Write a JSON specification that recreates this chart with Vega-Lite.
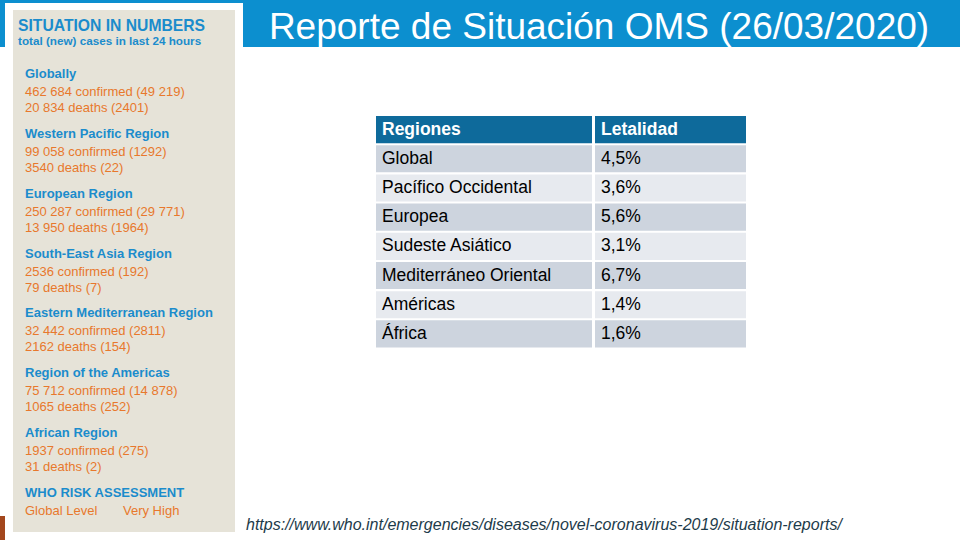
{
  "$schema": "https://vega.github.io/schema/vega-lite/v6.json",
  "width": 960,
  "height": 540,
  "autosize": {"type": "fit", "contains": "padding"},
  "padding": 0,
  "background": "white",
  "config": {"view": {"stroke": null}, "font": "Liberation Sans"},
  "datasets": {
    "panel": [
      {"grupo": "Globally", "lineas": "462 684 confirmed (49 219)\n20 834 deaths (2401)"},
      {"grupo": "Western Pacific Region", "lineas": "99 058 confirmed (1292)\n3540 deaths (22)"},
      {"grupo": "European Region", "lineas": "250 287 confirmed (29 771)\n13 950 deaths (1964)"},
      {"grupo": "South-East Asia Region", "lineas": "2536 confirmed (192)\n79 deaths (7)"},
      {"grupo": "Eastern Mediterranean Region", "lineas": "32 442 confirmed (2811)\n2162 deaths (154)"},
      {"grupo": "Region of the Americas", "lineas": "75 712 confirmed (14 878)\n1065 deaths (252)"},
      {"grupo": "African Region", "lineas": "1937 confirmed (275)\n31 deaths (2)"},
      {"grupo": "WHO RISK ASSESSMENT", "lineas": "Global Level", "nivel": "Very High"}
    ],
    "tabla": [
      {"region": "Regiones", "letalidad": "Letalidad"},
      {"region": "Global", "letalidad": "4,5%"},
      {"region": "Pacífico Occidental", "letalidad": "3,6%"},
      {"region": "Europea", "letalidad": "5,6%"},
      {"region": "Sudeste Asiático", "letalidad": "3,1%"},
      {"region": "Mediterráneo Oriental", "letalidad": "6,7%"},
      {"region": "Américas", "letalidad": "1,4%"},
      {"region": "África", "letalidad": "1,6%"}
    ]
  },
  "layer": [
    {
      "data": {"values": [{}]},
      "mark": {"type": "rect", "color": "#0c8fcf"},
      "encoding": {"x": {"value": 0}, "x2": {"value": 960}, "y": {"value": 0}, "y2": {"value": 47}}
    },
    {
      "data": {"values": [{}]},
      "mark": {"type": "rect", "color": "#ffffff"},
      "encoding": {"x": {"value": 5}, "x2": {"value": 243}, "y": {"value": 3}, "y2": {"value": 540}}
    },
    {
      "data": {"values": [{}]},
      "mark": {"type": "rect", "color": "#e6e3d8"},
      "encoding": {"x": {"value": 13}, "x2": {"value": 235}, "y": {"value": 10}, "y2": {"value": 532}}
    },
    {
      "data": {"values": [{}]},
      "mark": {"type": "rect", "color": "#a3471d"},
      "encoding": {"x": {"value": 0}, "x2": {"value": 5}, "y": {"value": 516}, "y2": {"value": 540}}
    },
    {
      "data": {"values": [{}]},
      "mark": {"type": "text", "align": "left", "baseline": "alphabetic", "fontWeight": "bold", "fontSize": 15.7, "color": "#1b8ccc", "text": "SITUATION IN NUMBERS"},
      "encoding": {"x": {"value": 18}, "y": {"value": 31}}
    },
    {
      "data": {"values": [{}]},
      "mark": {"type": "text", "align": "left", "baseline": "alphabetic", "fontWeight": "bold", "fontSize": 11.7, "color": "#1b8ccc", "text": "total (new) cases in last 24 hours"},
      "encoding": {"x": {"value": 18}, "y": {"value": 45}}
    },
    {
      "data": {"name": "panel"},
      "mark": {"type": "text", "align": "left", "baseline": "alphabetic", "fontWeight": "bold", "fontSize": 13, "color": "#1b8ccc"},
      "encoding": {
        "x": {"value": 25},
        "y": {"field": "grupo", "type": "nominal", "axis": null, "scale": {"type": "point", "domain": ["Globally", "Western Pacific Region", "European Region", "South-East Asia Region", "Eastern Mediterranean Region", "Region of the Americas", "African Region", "WHO RISK ASSESSMENT"], "range": [78, 497], "padding": 0}},
        "text": {"field": "grupo", "type": "nominal"}
      }
    },
    {
      "data": {"name": "panel"},
      "mark": {"type": "text", "align": "left", "baseline": "alphabetic", "fontSize": 13, "color": "#e8782c", "dy": 18, "lineBreak": "\n", "lineHeight": 16},
      "encoding": {
        "x": {"value": 25},
        "y": {"field": "grupo", "type": "nominal", "axis": null, "scale": {"type": "point", "domain": ["Globally", "Western Pacific Region", "European Region", "South-East Asia Region", "Eastern Mediterranean Region", "Region of the Americas", "African Region", "WHO RISK ASSESSMENT"], "range": [78, 497], "padding": 0}},
        "text": {"field": "lineas", "type": "nominal"}
      }
    },
    {
      "data": {"name": "panel"},
      "transform": [{"filter": "isValid(datum.nivel)"}],
      "mark": {"type": "text", "align": "left", "baseline": "alphabetic", "fontSize": 13, "color": "#e8782c", "dy": 18},
      "encoding": {
        "x": {"value": 123},
        "y": {"field": "grupo", "type": "nominal", "axis": null, "scale": {"type": "point", "domain": ["Globally", "Western Pacific Region", "European Region", "South-East Asia Region", "Eastern Mediterranean Region", "Region of the Americas", "African Region", "WHO RISK ASSESSMENT"], "range": [78, 497], "padding": 0}},
        "text": {"field": "nivel", "type": "nominal"}
      }
    },
    {
      "data": {"values": [{}]},
      "mark": {"type": "text", "align": "center", "baseline": "alphabetic", "fontSize": 37, "color": "#ffffff", "text": "Reporte de Situación OMS (26/03/2020)"},
      "encoding": {"x": {"value": 599}, "y": {"value": 39}}
    },
    {
      "data": {"name": "tabla"},
      "mark": {"type": "rect"},
      "encoding": {
        "x": {"value": 376}, "x2": {"value": 592},
        "y": {"field": "region", "type": "nominal", "axis": null, "scale": {"type": "band", "domain": ["Regiones", "Global", "Pacífico Occidental", "Europea", "Sudeste Asiático", "Mediterráneo Oriental", "Américas", "África"], "range": [116, 347.5], "paddingInner": 0.07, "paddingOuter": 0}},
        "color": {"field": "region", "type": "nominal", "legend": null, "scale": {"domain": ["Regiones", "Global", "Pacífico Occidental", "Europea", "Sudeste Asiático", "Mediterráneo Oriental", "Américas", "África"], "range": ["#0e6a9b", "#cdd4de", "#e7eaef", "#cdd4de", "#e7eaef", "#cdd4de", "#e7eaef", "#cdd4de"]}}
      }
    },
    {
      "data": {"name": "tabla"},
      "mark": {"type": "rect"},
      "encoding": {
        "x": {"value": 595}, "x2": {"value": 746},
        "y": {"field": "region", "type": "nominal", "axis": null, "scale": {"type": "band", "domain": ["Regiones", "Global", "Pacífico Occidental", "Europea", "Sudeste Asiático", "Mediterráneo Oriental", "Américas", "África"], "range": [116, 347.5], "paddingInner": 0.07, "paddingOuter": 0}},
        "color": {"field": "region", "type": "nominal", "legend": null, "scale": {"domain": ["Regiones", "Global", "Pacífico Occidental", "Europea", "Sudeste Asiático", "Mediterráneo Oriental", "Américas", "África"], "range": ["#0e6a9b", "#cdd4de", "#e7eaef", "#cdd4de", "#e7eaef", "#cdd4de", "#e7eaef", "#cdd4de"]}}
      }
    },
    {
      "data": {"name": "tabla"},
      "transform": [{"filter": "datum.region === 'Regiones'"}],
      "mark": {"type": "text", "align": "left", "baseline": "middle", "fontSize": 17.5, "fontWeight": "bold", "color": "#ffffff"},
      "encoding": {
        "x": {"value": 382},
        "y": {"field": "region", "type": "nominal", "axis": null, "scale": {"type": "band", "domain": ["Regiones", "Global", "Pacífico Occidental", "Europea", "Sudeste Asiático", "Mediterráneo Oriental", "Américas", "África"], "range": [116, 347.5], "paddingInner": 0.07, "paddingOuter": 0}},
        "text": {"field": "region", "type": "nominal"}
      }
    },
    {
      "data": {"name": "tabla"},
      "transform": [{"filter": "datum.region === 'Regiones'"}],
      "mark": {"type": "text", "align": "left", "baseline": "middle", "fontSize": 17.5, "fontWeight": "bold", "color": "#ffffff"},
      "encoding": {
        "x": {"value": 601},
        "y": {"field": "region", "type": "nominal", "axis": null, "scale": {"type": "band", "domain": ["Regiones", "Global", "Pacífico Occidental", "Europea", "Sudeste Asiático", "Mediterráneo Oriental", "Américas", "África"], "range": [116, 347.5], "paddingInner": 0.07, "paddingOuter": 0}},
        "text": {"field": "letalidad", "type": "nominal"}
      }
    },
    {
      "data": {"name": "tabla"},
      "transform": [{"filter": "datum.region !== 'Regiones'"}],
      "mark": {"type": "text", "align": "left", "baseline": "middle", "fontSize": 17.5, "color": "#000000"},
      "encoding": {
        "x": {"value": 382},
        "y": {"field": "region", "type": "nominal", "axis": null, "scale": {"type": "band", "domain": ["Regiones", "Global", "Pacífico Occidental", "Europea", "Sudeste Asiático", "Mediterráneo Oriental", "Américas", "África"], "range": [116, 347.5], "paddingInner": 0.07, "paddingOuter": 0}},
        "text": {"field": "region", "type": "nominal"}
      }
    },
    {
      "data": {"name": "tabla"},
      "transform": [{"filter": "datum.region !== 'Regiones'"}],
      "mark": {"type": "text", "align": "left", "baseline": "middle", "fontSize": 17.5, "color": "#000000"},
      "encoding": {
        "x": {"value": 601},
        "y": {"field": "region", "type": "nominal", "axis": null, "scale": {"type": "band", "domain": ["Regiones", "Global", "Pacífico Occidental", "Europea", "Sudeste Asiático", "Mediterráneo Oriental", "Américas", "África"], "range": [116, 347.5], "paddingInner": 0.07, "paddingOuter": 0}},
        "text": {"field": "letalidad", "type": "nominal"}
      }
    },
    {
      "data": {"values": [{}]},
      "mark": {"type": "text", "align": "left", "baseline": "alphabetic", "fontSize": 16, "fontStyle": "italic", "color": "#1d3b4a", "text": "https://www.who.int/emergencies/diseases/novel-coronavirus-2019/situation-reports/"},
      "encoding": {"x": {"value": 246}, "y": {"value": 530}}
    }
  ],
  "resolve": {"scale": {"x": "independent", "y": "independent", "color": "independent"}}
}
